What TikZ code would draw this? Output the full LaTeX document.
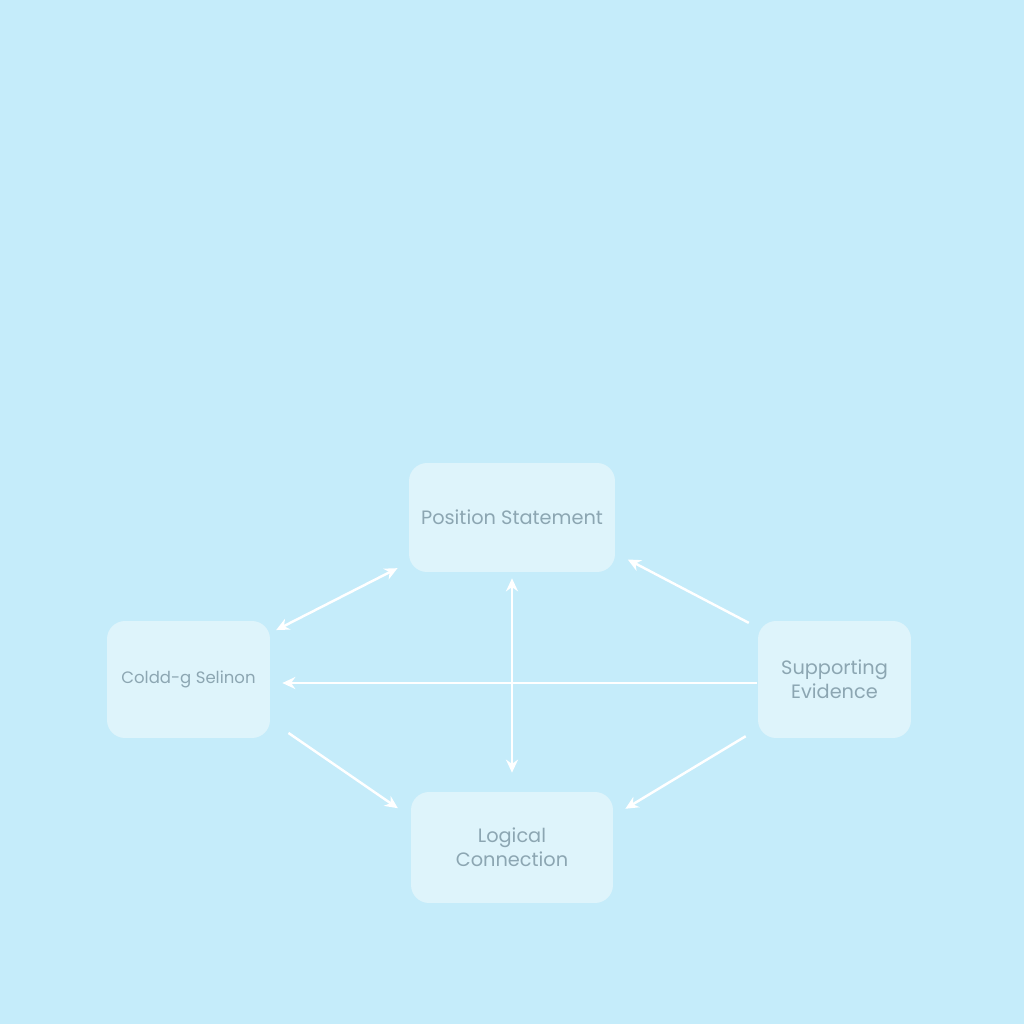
\documentclass[tikz,border=0pt]{standalone}
\usepackage{fontspec}
\setmainfont{Poppins}
\usetikzlibrary{arrows.meta}
\definecolor{bgblue}{HTML}{C5ECFA}
\definecolor{boxfill}{HTML}{DEF4FB}
\definecolor{txtgrey}{HTML}{8CA6B2}
\begin{document}
\begin{tikzpicture}[x=0.02cm, y=-0.02cm,
	box/.style={draw=none, fill=boxfill, rounded corners=0.36cm, text=txtgrey, align=center, font=\fontsize{11}{13.6}\selectfont, inner sep=0pt},
	link/.style={draw=white, line width=1.4pt, -{Stealth[length=0.26cm, width=0.24cm]}},
	both/.style={link, {Stealth[length=0.26cm, width=0.24cm]}-{Stealth[length=0.26cm, width=0.24cm]}}]
	\fill[bgblue] (0, 0) rectangle (1024, 1024);
	\useasboundingbox (0, 0) rectangle (1024, 1024);
	\node[box, minimum width=4.12cm, minimum height=2.18cm] (pos) at (512, 517.5) {Position Statement};
	\node[box, minimum width=3.26cm, minimum height=2.34cm, font=\fontsize{9.4}{12}\selectfont] (sel) at (188.5, 679.5) {Coldd-g Selinon};
	\node[box, minimum width=3.06cm, minimum height=2.34cm] (sup) at (834.5, 679.5) {Supporting\\Evidence};
	\node[box, minimum width=4.04cm, minimum height=2.22cm] (log) at (512, 847.5) {Logical\\Connection};
	\draw[both, shorten <=0.25cm, shorten >=0.13cm] ([yshift=-0.9cm]pos.west) -- ([yshift=0.93cm]sel.east);
	\draw[link, shorten <=0.2cm, shorten >=0.28cm] ([yshift=1.04cm]sup.west) -- ([yshift=-0.71cm]pos.east);
	\draw[link, shorten <=0.02cm, shorten >=0.24cm] ([yshift=-0.07cm]sup.west) -- ([yshift=-0.07cm]sel.east);
	\draw[both, shorten <=0.12cm, shorten >=0.38cm] (pos.south) -- (log.north);
	\draw[link, shorten <=0.44cm, shorten >=0.31cm] ([yshift=-0.82cm]sel.east) -- ([yshift=0.61cm]log.west);
	\draw[link, shorten <=0.28cm, shorten >=0.28cm] ([yshift=-0.99cm]sup.west) -- ([yshift=0.63cm]log.east);
\end{tikzpicture}
\end{document}
